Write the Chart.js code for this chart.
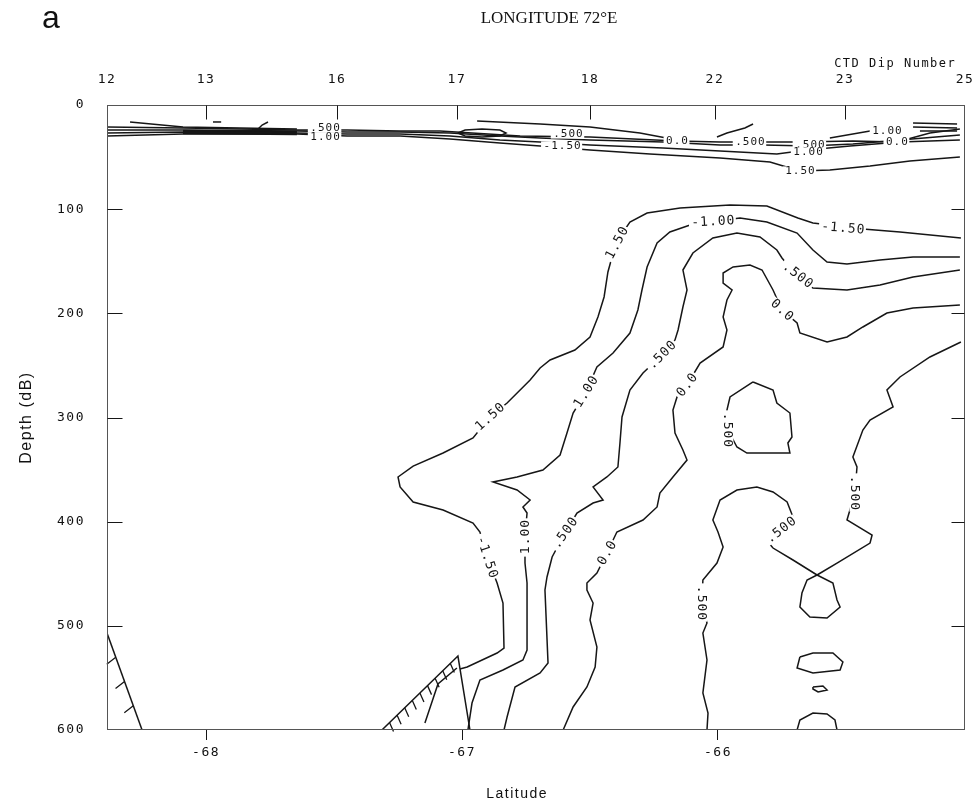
<!DOCTYPE html>
<html><head><meta charset="utf-8">
<script src="https://cdn.jsdelivr.net/npm/chart.js@4.4.0/dist/chart.umd.min.js"></script>
<style>html,body{margin:0;padding:0;background:#fff}canvas{display:block}</style>
</head><body>
<canvas id="c" width="973" height="810"></canvas>
<script>
// ---------- axis / tick data ----------
const chartTitle = 'LONGITUDE 72°E';
const panelLetter = 'a';
const latRange = [-68.387, -65.035];
const depthRange = [0, 600];
const latTicks = [-68, -67, -66];
const depthTicks = [0, 100, 200, 300, 400, 500, 600];
const innerDepthTicks = [100, 200, 300, 400, 500];
const dipNumbers = ['12', '13', '16', '17', '18', '22', '23', '25'];
const dipLatitudes = [-68.387, -68.000, -67.488, -67.020, -66.500, -66.012, -65.504, -65.035];

// ---------- contour lines  [latitude, depth dB] ----------
const iso_m150 = [[-65.051,127.7],[-65.289,121.9],[-65.434,119.0],[-65.629,113.3],[-65.688,108.5],[-65.809,97.0],[-65.953,96.0],[-66.148,98.9],[-66.277,103.7],[-66.344,112.3],[-66.387,127.7],[-66.414,145.9],[-66.430,160.3],[-66.445,184.3],[-66.469,203.5],[-66.500,222.7],[-66.559,235.2],[-66.656,244.8],[-66.695,252.5],[-66.734,264.0],[-66.824,286.1],[-66.891,299.5],[-66.957,319.7],[-67.074,334.1],[-67.191,346.6],[-67.250,357.1],[-67.242,366.7],[-67.191,381.1],[-67.074,388.8],[-66.957,401.3],[-66.930,409.9],[-66.902,433.9],[-66.863,458.9],[-66.840,478.1],[-66.836,521.3],[-66.863,526.1],[-66.980,539.5],[-67.008,541.4]];
const iso_m100 = [[-65.055,145.9],[-65.238,145.9],[-65.367,148.8],[-65.496,152.6],[-65.574,150.7],[-65.629,139.2],[-65.691,122.9],[-65.809,112.3],[-65.914,108.5],[-66.020,111.8],[-66.109,115.2],[-66.188,121.9],[-66.238,132.5],[-66.277,155.5],[-66.297,177.6],[-66.313,196.8],[-66.344,218.9],[-66.410,238.1],[-66.473,251.5],[-66.516,275.5],[-66.566,295.7],[-66.590,314.9],[-66.617,336.0],[-66.684,350.4],[-66.785,357.1],[-66.879,361.9],[-66.785,369.6],[-66.734,379.2],[-66.762,385.9],[-66.746,391.7],[-66.754,414.7],[-66.754,439.7],[-66.746,458.9],[-66.746,523.2],[-66.762,532.8],[-66.840,542.4],[-66.930,552.0],[-66.961,574.1],[-66.977,600]];
const iso_m050 = [[-65.055,158.4],[-65.238,165.1],[-65.367,172.8],[-65.496,177.6],[-65.629,175.7],[-65.688,165.1],[-65.750,146.9],[-65.770,139.2],[-65.836,126.7],[-65.926,122.9],[-66.020,127.7],[-66.098,142.1],[-66.137,158.4],[-66.121,177.6],[-66.137,193.9],[-66.156,216.0],[-66.168,225.6],[-66.219,240.0],[-66.293,257.3],[-66.344,273.6],[-66.375,299.5],[-66.383,324.5],[-66.391,347.5],[-66.434,357.1],[-66.488,366.7],[-66.449,379.2],[-66.488,382.1],[-66.551,391.7],[-66.598,410.9],[-66.648,433.9],[-66.668,453.1],[-66.676,465.6],[-66.664,535.7],[-66.695,545.3],[-66.793,558.7],[-66.824,587.5],[-66.836,600]];
const iso_000 = [[-65.055,192.0],[-65.238,194.9],[-65.340,199.7],[-65.434,213.1],[-65.496,222.7],[-65.574,227.5],[-65.680,218.9],[-65.691,209.3],[-65.750,196.8],[-65.785,177.6],[-65.828,158.4],[-65.875,153.6],[-65.941,155.5],[-65.980,161.3],[-65.980,170.9],[-65.945,177.6],[-65.965,187.2],[-65.980,203.5],[-65.965,216.0],[-65.980,232.3],[-66.070,247.7],[-66.121,268.8],[-66.160,280.3],[-66.176,292.8],[-66.168,314.9],[-66.137,331.2],[-66.121,340.8],[-66.176,357.1],[-66.227,372.5],[-66.238,385.9],[-66.293,398.4],[-66.395,409.9],[-66.434,430.1],[-66.473,449.3],[-66.512,458.9],[-66.512,465.6],[-66.488,478.1],[-66.500,494.4],[-66.473,520.3],[-66.480,539.5],[-66.512,558.7],[-66.566,577.9],[-66.605,600]];
const iso_p050 = [[-65.051,227.5],[-65.172,241.9],[-65.289,261.1],[-65.340,273.6],[-65.316,289.9],[-65.406,302.4],[-65.434,312.0],[-65.473,337.9],[-65.457,347.5],[-65.465,372.5],[-65.496,398.4],[-65.398,412.8],[-65.406,420.5],[-65.535,439.7],[-65.613,451.2],[-65.707,436.8],[-65.785,425.3],[-65.805,419.5],[-65.754,408.0],[-65.707,395.5],[-65.730,381.1],[-65.785,371.5],[-65.848,366.7],[-65.926,369.6],[-65.992,379.2],[-66.020,398.4],[-66.000,409.9],[-65.980,424.3],[-66.004,439.7],[-66.059,456.0],[-66.063,478.1],[-66.043,497.3],[-66.059,506.9],[-66.043,532.8],[-66.059,564.5],[-66.039,583.7],[-66.043,600]];
const iso_p050_core = [[-65.863,265.9],[-65.785,273.6],[-65.770,286.1],[-65.719,295.7],[-65.711,318.7],[-65.727,324.5],[-65.719,334.1],[-65.887,334.1],[-65.926,328.3],[-65.961,312.0],[-65.965,292.8],[-65.953,280.3],[-65.863,265.9]];
const iso_p050_cell1 = [[-65.613,451.2],[-65.551,458.9],[-65.535,475.2],[-65.523,481.9],[-65.574,492.5],[-65.641,491.5],[-65.680,481.9],[-65.672,468.5],[-65.652,456.0],[-65.613,451.2]];
const iso_p050_cell2 = [[-65.680,529.9],[-65.629,526.1],[-65.551,526.1],[-65.512,534.7],[-65.523,542.4],[-65.629,545.3],[-65.691,540.5],[-65.680,529.9]];
const iso_p050_cell3 = [[-65.629,558.7],[-65.590,557.8],[-65.574,561.6],[-65.609,563.5],[-65.629,560.6],[-65.629,558.7]];
const iso_p050_cell4 = [[-65.691,600],[-65.680,590.4],[-65.629,583.7],[-65.574,584.6],[-65.543,590.4],[-65.535,600]];

// surface layer
const surf_m150 = [[-68.387,29.8],[-68.090,27.8],[-67.645,27.8],[-67.449,29.8],[-67.242,29.8],[-67.047,32.6],[-66.852,36.5],[-66.695,39.4],[-66.500,43.2],[-66.266,47.0],[-65.992,50.9],[-65.797,54.7],[-65.680,63.4],[-65.563,62.4],[-65.406,58.6],[-65.250,53.8],[-65.055,49.9]];
const surf_m100 = [[-68.387,26.9],[-68.090,25.9],[-67.645,26.9],[-67.449,27.8],[-67.242,27.8],[-67.047,29.8],[-66.852,33.6],[-66.695,35.5],[-66.500,38.4],[-66.215,41.3],[-65.992,44.2],[-65.770,47.0],[-65.652,43.2],[-65.484,39.4],[-65.289,35.5],[-65.055,33.6]];
const surf_m050 = [[-68.387,24.0],[-68.090,24.0],[-67.645,25.0],[-67.449,25.9],[-67.242,25.9],[-67.047,26.9],[-66.852,29.8],[-66.695,31.7],[-66.500,33.6],[-66.215,35.5],[-65.992,38.4],[-65.824,38.4],[-65.641,39.4],[-65.473,37.4],[-65.289,33.6],[-65.055,28.8]];
const surf_000 = [[-68.387,21.1],[-68.090,22.1],[-67.645,24.0],[-67.449,24.0],[-67.242,25.0],[-67.086,25.0],[-66.773,29.8],[-66.500,30.7],[-66.160,34.6],[-65.992,35.5],[-65.680,35.5],[-65.473,34.6],[-65.301,35.5],[-65.172,26.9],[-65.055,23.0]];
const surf_top1 = [[-68.297,16.3],[-68.090,21.1],[-67.645,23.0]];
const surf_bar = [[-68.090,26.0],[-67.645,27.0]];
const surf_top2 = [[-66.941,15.4],[-66.695,18.2],[-66.500,21.1],[-66.305,26.9],[-66.160,33.6]];
const surf_eddy = [[-67.016,26.9],[-66.988,24.0],[-66.922,23.0],[-66.852,24.0],[-66.828,26.9],[-66.852,29.8],[-66.922,30.7],[-66.988,29.8],[-67.016,26.9]];
const surf_hook13 = [[-67.801,24.0],[-67.781,19.2],[-67.758,16.3]];
const surf_dash13 = [[-67.973,16.3],[-67.941,16.3]];
const surf_hook22 = [[-66.004,30.7],[-65.965,26.9],[-65.895,22.1],[-65.863,18.2]];
const surf_east1 = [[-65.563,31.7],[-65.406,25.0],[-65.340,23.0]];
const surf_east2 = [[-65.238,17.3],[-65.066,18.2]];
const surf_east3 = [[-65.238,21.1],[-65.066,22.1]];
const surf_east4 = [[-65.211,25.0],[-65.066,25.0]];

// bottom topography
const topoLeft = [[-68.387,506.9],[-68.250,600]];
const topoMid = [[-67.313,600],[-67.016,529.0],[-66.969,600]];
const topoMidInner = [[-67.145,593.3],[-67.094,555.8],[-67.020,540.5]];

// contour labels: text, latitude, depth
const labelTexts = ['-1.50','-1.00','1.50','.500','0.0','.500','0.0','1.00','1.50','.500','-1.50','1.00','.500','0.0','.500','.500','.500'];
const labelLats  = [-65.512,-66.020,-66.395,-65.688,-65.750,-66.219,-66.121,-66.516,-66.891,-65.961,-66.902,-66.754,-66.598,-66.434,-66.063,-65.754,-65.465];
const labelDepths= [118.1,111.8,132.5,163.2,196.8,240.0,268.8,275.5,299.5,312.0,433.9,414.7,410.9,430.1,478.1,408.0,372.5];
const labelAngles= [5,-3,-62,38,42,-45,-52,-58,-42,90,72,-90,-55,-60,90,-38,90];
const surfLabelTexts = ['.500','1.00','.500','-1.50','0.0','.500','.500','1.00','1.50','1.00','0.0'];
const surfLabelLats  = [-67.535,-67.535,-66.586,-66.609,-66.160,-65.875,-65.641,-65.648,-65.680,-65.340,-65.301];
const surfLabelDepths= [22.1,30.7,27.8,39.4,34.6,35.5,38.4,45.1,63.4,25.0,35.5];

const INK = '#161616';
const lines = [iso_m150, iso_m100, iso_m050, iso_000, iso_p050, iso_p050_core, iso_p050_cell1, iso_p050_cell2, iso_p050_cell3, iso_p050_cell4,
  surf_m150, surf_m100, surf_m050, surf_000, surf_top1, surf_top2, surf_eddy, surf_hook13, surf_dash13, surf_hook22, surf_east1, surf_east2, surf_east3, surf_east4,
  topoLeft, topoMid, topoMidInner];
const datasets = lines.map(pts => ({
  data: pts.map(([x, y]) => ({x, y})), showLine: true, pointRadius: 0, borderColor: INK,
  borderWidth: 1.5, fill: false, tension: 0
}));
datasets.push({ data: surf_bar.map(([x, y]) => ({x, y})), showLine: true, pointRadius: 0, borderColor: INK, borderWidth: 4.5, fill: false });

function drawLabel(ctx, x, y, text, ang, size) {
  ctx.save();
  ctx.translate(x, y);
  ctx.rotate(ang * Math.PI / 180);
  ctx.font = size + 'px "DejaVu Sans Mono"';
  ctx.letterSpacing = '1px';
  const w = ctx.measureText(text).width;
  ctx.fillStyle = '#fff';
  ctx.fillRect(-w / 2 - 2, -size * 0.42, w + 3, size * 0.84);
  ctx.fillStyle = INK; ctx.textAlign = 'center'; ctx.textBaseline = 'middle';
  ctx.fillText(text, 0.5, 0.5);
  ctx.restore();
}
function hatch(ctx, p0, p1, n, dx, dy) {
  for (let i = 1; i <= n; i++) {
    const t = i / (n + 1);
    const x = p0[0] + (p1[0] - p0[0]) * t, y = p0[1] + (p1[1] - p0[1]) * t;
    ctx.moveTo(x, y); ctx.lineTo(x + dx, y + dy);
  }
}

const decor = {
  id: 'decor',
  beforeDraw(chart) {
    const ctx = chart.ctx;
    ctx.save(); ctx.fillStyle = '#fff'; ctx.fillRect(0, 0, chart.width, chart.height); ctx.restore();
    ctx.letterSpacing = '1.5px';
  },
  afterDatasetsDraw(chart) {
    const ctx = chart.ctx, sx = chart.scales.x, sy = chart.scales.y;
    const P = ([a, b]) => [sx.getPixelForValue(a), sy.getPixelForValue(b)];
    ctx.save();
    ctx.strokeStyle = INK; ctx.lineWidth = 1.3; ctx.beginPath();
    hatch(ctx, P(topoLeft[0]), P(topoLeft[1]), 3, -9, 7);
    hatch(ctx, P(topoMid[0]), P(topoMid[1]), 9, 4, 9);
    ctx.stroke();
    ctx.restore();
    labelTexts.forEach((t, i) => drawLabel(ctx, sx.getPixelForValue(labelLats[i]), sy.getPixelForValue(labelDepths[i]), t, labelAngles[i], 13));
    surfLabelTexts.forEach((t, i) => drawLabel(ctx, sx.getPixelForValue(surfLabelLats[i]), sy.getPixelForValue(surfLabelDepths[i]), t, 0, 11));
  },
  afterDraw(chart) {
    const ctx = chart.ctx, a = chart.chartArea;
    ctx.save();
    ctx.letterSpacing = '0px';
    ctx.strokeStyle = '#555'; ctx.lineWidth = 1;
    const L = Math.round(a.left) + 0.5, T = Math.round(a.top) + 0.5, R = Math.round(a.right) - 0.5, B = Math.round(a.bottom) - 0.5;
    ctx.strokeRect(L, T, R - L, B - T);
    ctx.strokeStyle = INK; ctx.beginPath();
    innerDepthTicks.forEach(d => {
      const y = Math.round(chart.scales.y.getPixelForValue(d)) + 0.5;
      ctx.moveTo(L, y); ctx.lineTo(L + 15, y);
      ctx.moveTo(R, y); ctx.lineTo(R - 13, y);
    });
    dipLatitudes.slice(1, -1).forEach(v => {
      const x = Math.round(chart.scales.x2.getPixelForValue(v)) + 0.5;
      ctx.moveTo(x, T); ctx.lineTo(x, T + 14);
    });
    ctx.stroke();
    ctx.fillStyle = '#111'; ctx.textBaseline = 'alphabetic';
    ctx.font = '17px "Liberation Serif"'; ctx.textAlign = 'center';
    ctx.fillText(chartTitle, 549, 23);
    ctx.font = '32px "Liberation Sans"'; ctx.textAlign = 'left';
    ctx.fillText(panelLetter, 42, 28);
    ctx.restore();
    ctx.letterSpacing = '0px';
  }
};

const tickFont = { family: 'DejaVu Sans Mono', size: 13 };
new Chart(document.getElementById('c'), {
  type: 'scatter',
  data: { datasets },
  options: {
    responsive: false, animation: false, events: [],
    layout: { padding: { left: 0, right: 8, top: 0, bottom: 0 } },
    plugins: { legend: { display: false }, tooltip: { enabled: false }, title: { display: false } },
    scales: {
      x: {
        type: 'linear', position: 'bottom', min: latRange[0], max: latRange[1],
        afterBuildTicks: s => { s.ticks = latTicks.map(v => ({ value: v })); },
        afterFit: s => { s.height = 80; s.paddingLeft = 0; s.paddingRight = 0; },
        ticks: { callback: v => String(v), font: tickFont, color: '#111', padding: 5, maxRotation: 0, autoSkip: false },
        grid: { drawOnChartArea: false, drawTicks: true, tickLength: 10, color: INK, lineWidth: 1 },
        border: { display: false },
        title: { display: true, text: 'Latitude       ', font: { family: 'Liberation Sans', size: 14 }, color: '#111', padding: { top: 0, bottom: 7 } }
      },
      x2: {
        type: 'linear', position: 'top', min: latRange[0], max: latRange[1],
        afterBuildTicks: s => { s.ticks = dipLatitudes.map(v => ({ value: v })); },
        afterFit: s => { s.height = 105; s.paddingLeft = 0; s.paddingRight = 0; },
        ticks: { callback: (v, i) => dipNumbers[i], font: tickFont, color: '#111', padding: 10, maxRotation: 0, autoSkip: false },
        grid: { display: false },
        border: { display: false },
        title: { display: true, text: 'CTD Dip Number ', align: 'end', font: { family: 'DejaVu Sans Mono', size: 12 }, color: '#111', padding: { top: 57, bottom: 0 } }
      },
      y: {
        type: 'linear', position: 'left', reverse: true, min: depthRange[0], max: depthRange[1],
        afterBuildTicks: s => { s.ticks = depthTicks.map(v => ({ value: v })); },
        afterFit: s => { s.width = 107; s.paddingTop = 0; s.paddingBottom = 0; },
        ticks: { callback: v => String(v), font: tickFont, color: '#111', padding: 14, autoSkip: false },
        grid: { display: false },
        border: { display: false },
        title: { display: true, text: 'Depth (dB)', font: { family: 'Liberation Sans', size: 16 }, color: '#111', padding: { top: 17, bottom: 0 } }
      }
    }
  },
  plugins: [decor]
});
</script>
</body></html>
